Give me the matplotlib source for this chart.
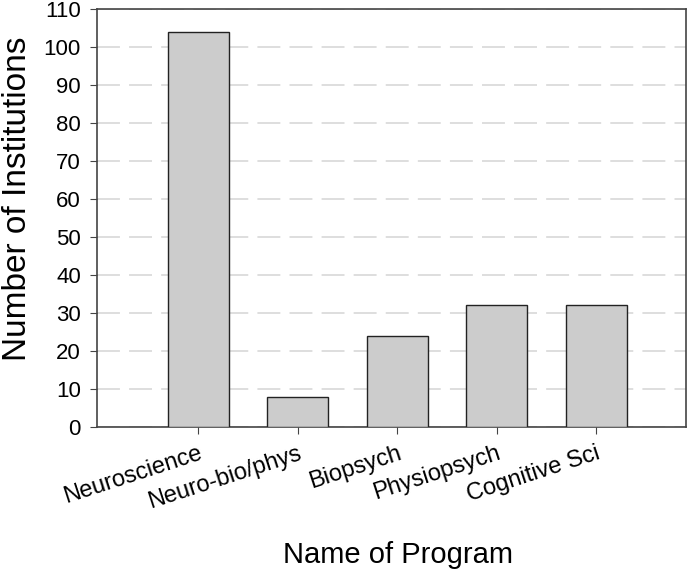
import numpy as np
import matplotlib
matplotlib.use('Agg')
import matplotlib.pyplot as plt

programs = ['Neuroscience', 'Neuro-bio/phys', 'Biopsych', 'Physiopsych', 'Cognitive Sci']
counts = [104, 8, 24, 32, 32]

plt.rcParams['font.family'] = ['Liberation Sans', 'DejaVu Sans']

fig = plt.figure(figsize=(6.96, 5.70), dpi=100)
ax = fig.add_axes([0.139, 0.251, 0.847, 0.733])

x = np.arange(1, len(programs) + 1)
ax.bar(x, counts, width=0.61, color='#cccccc', edgecolor='#222222', linewidth=1.0, zorder=3)

# dashed horizontal grid behind the bars
ax.set_axisbelow(True)
ax.yaxis.grid(True, color='#d4d4d4', linestyle=(0, (15, 6)), linewidth=1.1)

ax.set_xlim(-0.02, 5.905)
ax.set_ylim(0, 110)
ax.set_yticks(np.arange(0, 111, 10))
ax.set_xticks(x)
ax.set_xticklabels(programs, rotation=18, ha='right', rotation_mode='anchor', fontsize=17)
ax.tick_params(axis='y', labelsize=16, direction='out', length=5, color='#444444', pad=6.5)
ax.tick_params(axis='x', direction='out', length=5, color='#444444', pad=6)

for s in ax.spines.values():
    s.set_color('#444444')
    s.set_linewidth(1.2)

ax.set_ylabel('Number of Institutions', fontsize=24)
ax.yaxis.set_label_coords(-0.108, 0.545)
ax.set_xlabel('Name of Program', fontsize=21)
ax.xaxis.set_label_coords(0.511, -0.272)

plt.savefig('out.png', dpi=100)
